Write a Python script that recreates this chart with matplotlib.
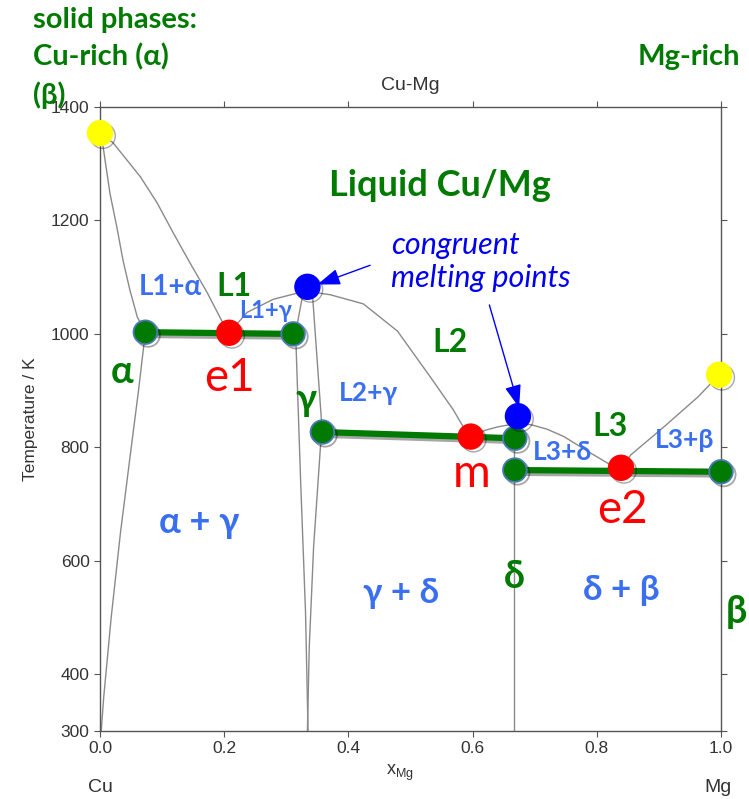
import matplotlib
matplotlib.use("Agg")
import matplotlib.pyplot as plt
import matplotlib.patheffects as pe

# ---------------- data ----------------
# liquidus Cu -> e1
liq1_x = [0.0, 0.021, 0.065, 0.092, 0.118, 0.145, 0.173, 0.198, 0.208]
liq1_T = [1354, 1337, 1277, 1231, 1178, 1125, 1072, 1019, 1002]
# solidus Cu side
sol_a_x = [0.0, 0.005, 0.016, 0.027, 0.037, 0.048, 0.060, 0.073]
sol_a_T = [1354, 1330, 1248, 1189, 1130, 1078, 1030, 1003]
# alpha solvus
solv_a_x = [0.073, 0.062, 0.048, 0.033, 0.018, 0.006, 0.002]
solv_a_T = [1003, 900, 780, 650, 500, 360, 300]
# liquidus e1 -> gamma max -> m
liq2_x = [0.208, 0.237, 0.279, 0.318, 0.340, 0.371, 0.424, 0.479, 0.532, 0.569, 0.585, 0.597]
liq2_T = [1002, 1038, 1061, 1072, 1074, 1069, 1053, 1005, 924, 866, 836, 819]
# gamma phase boundaries
gam_l_x = [0.334, 0.327, 0.315, 0.323, 0.331, 0.335]
gam_l_T = [1083, 1072, 1002, 743, 508, 300]
gam_r_x = [0.334, 0.342, 0.358, 0.355, 0.344, 0.337, 0.334]
gam_r_T = [1083, 1072, 826, 801, 625, 449, 300]
# liquidus m -> delta max -> e2
liq3_x = [0.597, 0.620, 0.640, 0.665, 0.694, 0.720, 0.747, 0.790, 0.827, 0.839]
liq3_T = [819, 830, 836, 841, 840, 832, 819, 790, 766, 764]
# delta line compound
delta_x = [0.667, 0.667]
delta_T = [842, 300]
# liquidus e2 -> Mg
liq4_x = [0.839, 0.855, 0.908, 0.963, 0.997]
liq4_T = [764, 787, 836, 889, 928]

# eutectic / peritectic horizontal lines (end, special point, end)
tie1_x = [0.073, 0.208, 0.311]
tie1_T = [1003, 1002, 1000]
tie2_x = [0.358, 0.597, 0.668]
tie2_T = [827, 819, 816]
tie3_x = [0.668, 0.839, 1.0]
tie3_T = [760, 764, 757]

melt_x = [0.0, 0.997]
melt_T = [1354, 928]
cong_x = [0.334, 0.673]
cong_T = [1083, 855]

xticks = [0.0, 0.2, 0.4, 0.6, 0.8, 1.0]
yticks = [300, 400, 600, 800, 1000, 1200, 1400]

# ---------------- figure ----------------
fig = plt.figure(figsize=(7.49, 7.99), dpi=100)
ax = fig.add_axes([100/749, 68/799, 621/749, 624/799])
ax.set_xlim(0, 1)
ax.set_ylim(300, 1400)

GRAY = "#8a8a8a"
for xs, ts in [(liq1_x, liq1_T), (sol_a_x, sol_a_T), (solv_a_x, solv_a_T),
               (liq2_x, liq2_T), (gam_l_x, gam_l_T), (gam_r_x, gam_r_T),
               (liq3_x, liq3_T), (delta_x, delta_T), (liq4_x, liq4_T)]:
    ax.plot(xs, ts, color=GRAY, lw=1.0, zorder=2)

shadow = [pe.SimpleLineShadow(offset=(2, -2), alpha=0.35), pe.Normal()]
GREEN = "#007a00"
for xs, ts in [(tie1_x, tie1_T), (tie2_x, tie2_T), (tie3_x, tie3_T)]:
    ax.plot([xs[0], xs[-1]], [ts[0], ts[-1]], color=GREEN, lw=4.5, zorder=3,
            solid_capstyle="butt", path_effects=shadow)
    ax.plot([xs[0], xs[-1]], [ts[0], ts[-1]], ls="none", marker="o", ms=17,
            mfc=GREEN, mec="#4a78b8", mew=1.3, zorder=5, path_effects=shadow,
            clip_on=False)
    ax.plot([xs[1]], [ts[1]], ls="none", marker="o", ms=18, mfc="#ff0000",
            mec="#ff0000", zorder=6, path_effects=shadow)

ax.plot(melt_x, melt_T, ls="none", marker="o", ms=18, mfc="#ffff00", mec="#ffff00",
        zorder=6, clip_on=False, path_effects=shadow)
ax.plot(cong_x, cong_T, ls="none", marker="o", ms=18, mfc="#0000ff", mec="#0000ff",
        zorder=7, clip_on=False, path_effects=shadow)

# axes styling
sans = ["Liberation Sans", "DejaVu Sans"]
for s in ax.spines.values():
    s.set_color("#555555")
    s.set_linewidth(1.0)
ax.set_xticks(xticks)
ax.set_xticklabels([f"{v:.1f}" for v in xticks])
ax.set_yticks(yticks)
ax.tick_params(direction="out", length=4, width=0.8, color="#555555",
               labelsize=12.5, labelcolor="#333333", top=True, right=True)
for lab in ax.get_xticklabels() + ax.get_yticklabels():
    lab.set_family(sans)
ax.set_ylabel("Temperature / K", fontsize=12.5, color="#333333",
              family=sans, labelpad=9)
ax.set_title("Cu-Mg", fontsize=14, color="#333333", family=sans, pad=12)

fig.text(100/749, 1-787/799, "Cu", ha="center", va="center", fontsize=14,
         color="#333333", family=sans)
fig.text(718/749, 1-787/799, "Mg", ha="center", va="center", fontsize=14,
         color="#333333", family=sans)
fig.text(400/749, 1-773/799, r"$\mathregular{x_{Mg}}$", ha="center", va="center",
         fontsize=13, color="#333333", family=sans)

# annotations
LF = ["Lato", "DejaVu Sans"]
BL = "#3a6ff0"
RED = "#ff0000"
for yy, s in [(20, "solid phases:"), (57, "Cu-rich (α)"), (95, "(β)")]:
    fig.text(33/749, 1-yy/799, s, fontsize=21, fontweight="bold",
             color=GREEN, family=LF, va="center")
fig.text(740/749, 1-57/799, "Mg-rich", fontsize=21, fontweight="bold",
         color=GREEN, family=LF, va="center", ha="right")

def t(x, T, s, color, size, weight="bold", style="normal", ha="center"):
    ax.text(x, T, s, color=color, fontsize=size, fontweight=weight, style=style,
            family=LF, ha=ha, va="center", zorder=8, clip_on=False)

t(0.548, 1261, "Liquid Cu/Mg", GREEN, 26)
t(0.215, 1083, "L1", GREEN, 23)
t(0.113, 1083, "L1+α", BL, 20)
t(0.266, 1041, "L1+γ", BL, 17)
t(0.035, 933, "α", GREEN, 27)
t(0.208, 922, "e1", RED, 33, weight="normal")
t(0.332, 884, "γ", GREEN, 27)
t(0.432, 896, "L2+γ", BL, 19)
t(0.563, 984, "L2", GREEN, 23)
t(0.598, 753, "m", RED, 33, weight="normal")
t(0.469, 1128, "congruent\nmelting points", "#0000ee", 22, weight="normal",
  style="italic", ha="left")
t(0.668, 572, "δ", GREEN, 27)
t(0.821, 836, "L3", GREEN, 23)
t(0.745, 792, "L3+δ", BL, 19)
t(0.942, 813, "L3+β", BL, 19)
t(0.842, 690, "e2", RED, 33, weight="normal")
t(1.024, 510, "β", GREEN, 27)
t(0.160, 667, "α + γ", BL, 26)
t(0.484, 544, "γ + δ", BL, 25)
t(0.840, 549, "δ + β", BL, 25)

arrow = dict(arrowstyle="-|>,head_length=1.4,head_width=0.5", color="#0000ff", lw=1.0,
             shrinkA=0, shrinkB=0)
ax.annotate("", xy=(0.350, 1087), xytext=(0.435, 1121), arrowprops=arrow, zorder=8)
ax.annotate("", xy=(0.675, 870), xytext=(0.627, 1051), arrowprops=arrow, zorder=8)

fig.savefig("out.png", dpi=100)
